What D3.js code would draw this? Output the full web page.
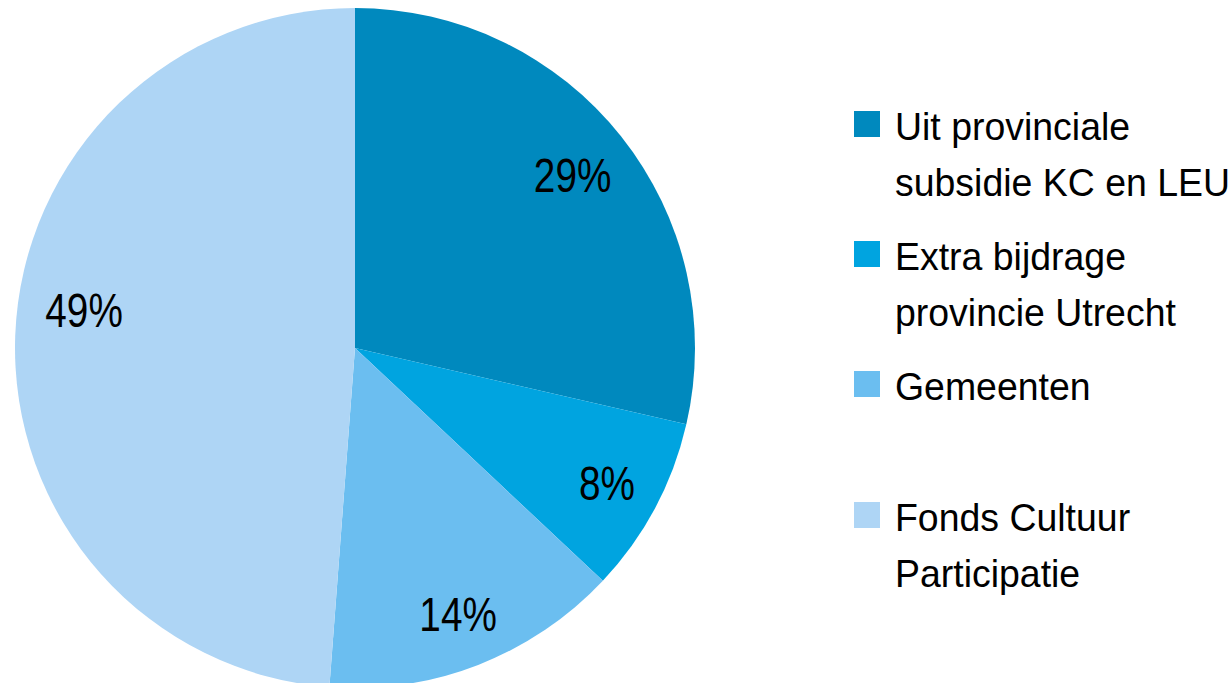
<!DOCTYPE html>
<html>
<head>
<meta charset="utf-8">
<script src="https://cdn.jsdelivr.net/npm/d3@7"></script>
<style>
  html, body { margin: 0; padding: 0; background: #fff; }
  svg { display: block; }
  text { font-family: "Liberation Sans", Arial, sans-serif; }
</style>
</head>
<body>
<div id="chart"></div>
<script>
// data
var categories = ["Uit provinciale subsidie KC en LEU", "Extra bijdrage provincie Utrecht", "Gemeenten", "Fonds Cultuur Participatie"];
var legendLines = [["Uit provinciale", "subsidie KC en LEU"], ["Extra bijdrage", "provincie Utrecht"], ["Gemeenten"], ["Fonds Cultuur", "Participatie"]];
var shares = [28.6, 8.4, 14.2, 48.8];
var colors = ["#0089be", "#00a4e0", "#6bbef0", "#aed5f5"];

function init() {
  var w = 1230, h = 683;
  var cx = 355, cy = 348, radius = 340;

  var svg = d3.select("#chart").append("svg")
    .attr("width", w)
    .attr("height", h);

  var data = categories.map(function(c, i) {
    return { name: c, value: shares[i], color: colors[i], lines: legendLines[i] };
  });

  var pie = d3.pie().sort(null).value(function(d) { return d.value; });
  var arc = d3.arc().innerRadius(0).outerRadius(radius);
  var arcs = pie(data);

  var g = svg.append("g").attr("transform", "translate(" + cx + "," + cy + ")");

  g.selectAll("path")
    .data(arcs)
    .enter()
    .append("path")
    .attr("d", arc)
    .attr("fill", function(d) { return d.data.color; });

  // label radius per slice (fraction of radius) and small angle nudge (degrees)
  var labelR = [0.818, 0.84, 0.837, 0.805];
  var labelNudge = [0, 0, 0, 6];
  g.selectAll("text.pct")
    .data(arcs)
    .enter()
    .append("text")
    .attr("class", "pct")
    .attr("transform", function(d, i) {
      var a = (d.startAngle + d.endAngle) / 2 + labelNudge[i] * Math.PI / 180;
      var r = radius * labelR[i];
      return "translate(" + (Math.sin(a) * r) + "," + (-Math.cos(a) * r) + ") scale(0.79,1)";
    })
    .attr("text-anchor", "middle")
    .attr("dy", "0.36em")
    .attr("font-size", 49)
    .attr("fill", "#000")
    .text(function(d) { return Math.round(d.data.value) + "%"; });

  // legend
  var legendY = [111, 241, 371, 502];
  var legend = svg.selectAll("g.leg")
    .data(data)
    .enter()
    .append("g")
    .attr("class", "leg")
    .attr("transform", function(d, i) { return "translate(854," + legendY[i] + ")"; });

  legend.append("rect")
    .attr("width", 26)
    .attr("height", 26)
    .attr("fill", function(d) { return d.color; });

  legend.each(function(d) {
    var t = d3.select(this);
    d.lines.forEach(function(line, j) {
      t.append("text")
        .attr("transform", "translate(41," + (29 + j * 56) + ") scale(0.96,1)")
        .attr("font-size", 39)
        .attr("fill", "#000")
        .text(line);
    });
  });
}

window.onload = init;
</script>
</body>
</html>
